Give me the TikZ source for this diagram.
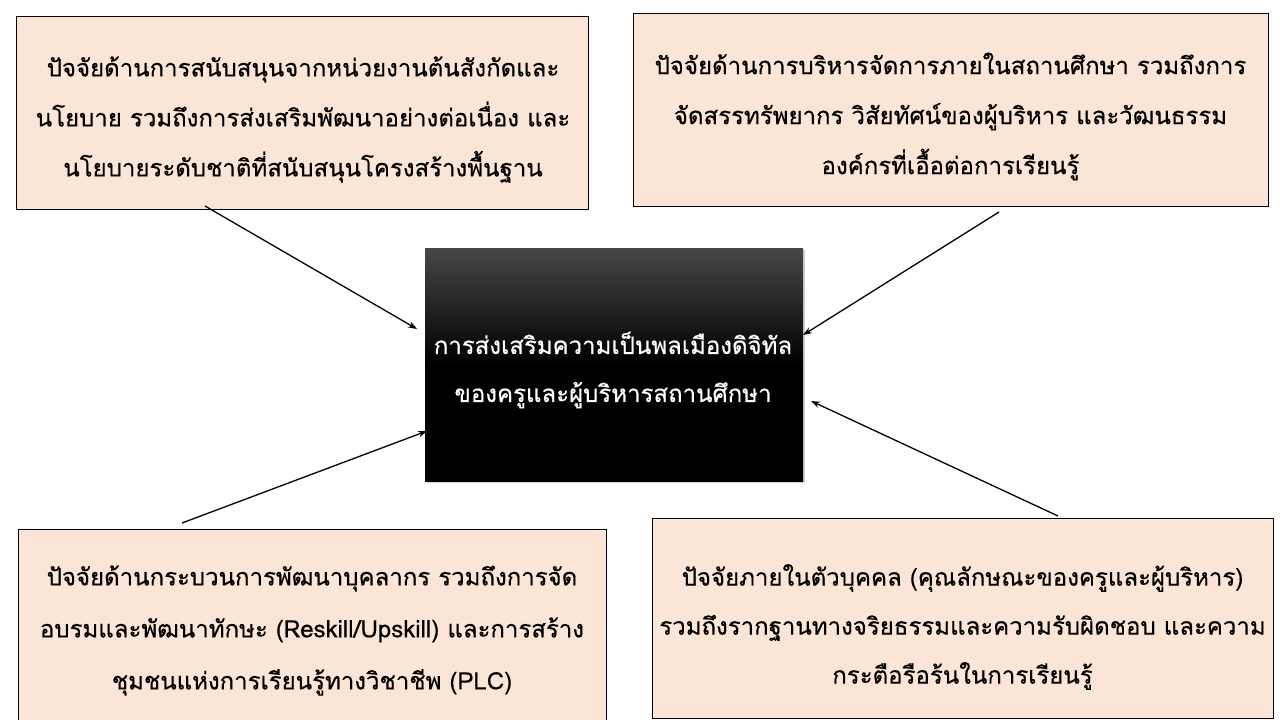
\documentclass[tikz,border=0pt]{standalone}
\usepackage{fontspec}
\newfontfamily\thaifont[Script=Thai,FakeBold=0.45]{Loma}
\usetikzlibrary{arrows.meta,shadows}
\definecolor{peach}{HTML}{FBE5D6}
\tikzset{
  factor/.style={draw=black, line width=1pt, fill=peach, inner sep=0pt},
  factortext/.style={align=center, font=\thaifont\fontsize{24}{50}\selectfont, inner sep=0pt},
  core/.style={inner sep=0pt,
    top color=black!72, bottom color=black, middle color=black,
    drop shadow={opacity=0.35, shadow xshift=2pt, shadow yshift=-2pt}},
  coretext/.style={align=center, text=white, font=\thaifont\fontsize{24}{48}\selectfont, inner sep=0pt},
  link/.style={line width=1.3pt, -{Stealth[length=9pt,width=6.5pt]}}
}
\begin{document}
\begin{tikzpicture}[x=1pt,y=-1pt]
\useasboundingbox (0,0) rectangle (1280,720);
\fill[white] (0,0) rectangle (1280,720);
\node[core, minimum width=378pt, minimum height=233pt] (c) at (614,364.5) {};
\node[coretext] (ct) at (613,370) {การส่งเสริมความเป็นพลเมืองดิจิทัล\\ของครูและผู้บริหารสถานศึกษา};
\node[factor, minimum width=572pt, minimum height=193pt] (f1) at (302,112.5) {};
\node[factortext] (f1t) at (303,119.5) {ปัจจัยด้านการสนับสนุนจากหน่วยงานต้นสังกัดและ\\นโยบาย รวมถึงการส่งเสริมพัฒนาอย่างต่อเนื่อง และ\\นโยบายระดับชาติที่สนับสนุนโครงสร้างพื้นฐาน};
\node[factor, minimum width=635pt, minimum height=193pt] (f2) at (950.5,109.5) {};
\node[factortext] (f2t) at (950.5,116.5) {ปัจจัยด้านการบริหารจัดการภายในสถานศึกษา รวมถึงการ\\จัดสรรทรัพยากร วิสัยทัศน์ของผู้บริหาร และวัฒนธรรม\\องค์กรที่เอื้อต่อการเรียนรู้};
\node[factor, minimum width=588pt, minimum height=193pt] (f3) at (312,625.5) {};
\node[factortext, font=\thaifont\fontsize{24}{52}\selectfont] (f3t) at (312,630.5) {ปัจจัยด้านกระบวนการพัฒนาบุคลากร รวมถึงการจัด\\อบรมและพัฒนาทักษะ (Reskill/Upskill) และการสร้าง\\ชุมชนแห่งการเรียนรู้ทางวิชาชีพ (PLC)};
\node[factor, minimum width=621pt, minimum height=200pt] (f4) at (962.5,618) {};
\node[factortext, font=\thaifont\fontsize{24}{49}\selectfont] (f4t) at (962.5,627) {ปัจจัยภายในตัวบุคคล (คุณลักษณะของครูและผู้บริหาร)\\รวมถึงรากฐานทางจริยธรรมและความรับผิดชอบ และความ\\กระตือรือร้นในการเรียนรู้};
\coordinate (s1) at (205,206);
\coordinate (e1) at (417,329);
\coordinate (s2) at (999,212);
\coordinate (e2) at (803,335);
\coordinate (s3) at (182,523);
\coordinate (e3) at (427,431);
\coordinate (s4) at (1058,516);
\coordinate (e4) at (811,401);
\draw[link] (s1) -- (e1);
\draw[link] (s2) -- (e2);
\draw[link] (s3) -- (e3);
\draw[link] (s4) -- (e4);
\end{tikzpicture}
\end{document}
